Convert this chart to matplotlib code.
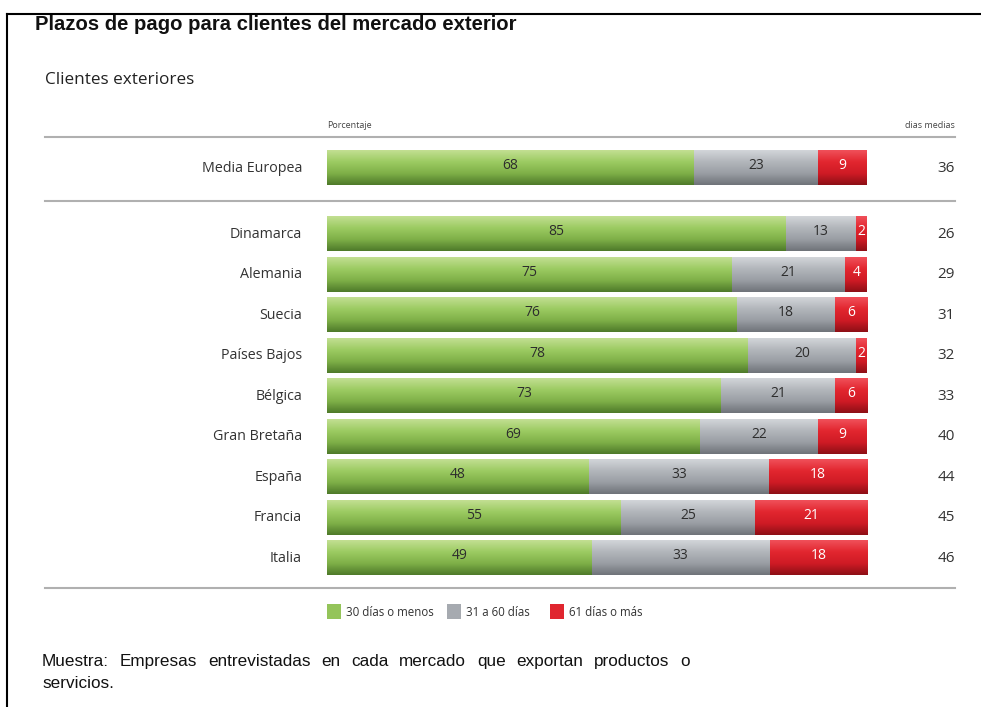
import numpy as np
import matplotlib
matplotlib.use("Agg")
import matplotlib.pyplot as plt
from matplotlib.colors import LinearSegmentedColormap
from matplotlib.lines import Line2D
from matplotlib.patches import Rectangle

# ---------------- data ----------------
categories = ["Media Europea", "Dinamarca", "Alemania", "Suecia", "Países Bajos",
              "Bélgica", "Gran Bretaña", "España", "Francia", "Italia"]
short_30 = [68, 85, 75, 76, 78, 73, 69, 48, 55, 49]
mid_31_60 = [23, 13, 21, 18, 20, 21, 22, 33, 25, 33]
long_61 = [9, 2, 4, 6, 2, 6, 9, 18, 21, 18]
avg_days = [36, 26, 29, 31, 32, 33, 40, 44, 45, 46]
series_names = ["30 días o menos", "31 a 60 días", "61 días o más"]

title = "Plazos de pago para clientes del mercado exterior"
subtitle = "Clientes exteriores"
footer = "Muestra: Empresas entrevistadas en cada mercado que exportan productos o"
footer2 = "servicios."

# ---------------- style ----------------
W, H = 981, 707
fig = plt.figure(figsize=(W / 100, H / 100), dpi=100)
fig.patch.set_facecolor("white")

def fx(px):
    return px / W

def fy(py):
    return 1 - py / H

base_colors = ["#94c45a", "#a6aab0", "#e0262f"]
grads = [
    LinearSegmentedColormap.from_list("g", ["#c2df92", "#9ccb62", "#7fb048", "#4e7a2a"]),
    LinearSegmentedColormap.from_list("s", ["#d2d5d9", "#b2b6bb", "#9a9ea4", "#6f7379"]),
    LinearSegmentedColormap.from_list("r", ["#f0505a", "#e2262f", "#cf1b25", "#8e0f16"]),
]
label_colors = ["#2d2d2d", "#2d2d2d", "#ffffff"]

# axes: x 0..100 maps to px 327..867 ; y rows in units of 40.5 px
ax_top, ax_bot = 100, 600
ax = fig.add_axes([fx(327), fy(ax_bot), fx(867) - fx(327), (ax_bot - ax_top) / H])
ax.set_axis_off()
unit = 40.5
y0_px = 168
ypos = [0.0] + [1.63 + i for i in range(len(categories) - 1)]
bar_h = 0.84

data = np.array([short_30, mid_31_60, long_61], dtype=float)
totals = data.sum(axis=0)
norm = data / totals * 100.0

left = np.zeros(len(categories))
for s in range(3):
    bars = ax.barh(ypos, norm[s], left=left, height=bar_h, color=base_colors[s],
                   edgecolor="none", zorder=2)
    g = np.linspace(0, 1, 64).reshape(-1, 1)
    for i, r in enumerate(bars):
        x, y, w, h = r.get_x(), r.get_y(), r.get_width(), r.get_height()
        ax.imshow(g, cmap=grads[s], extent=(x, x + w, y + h, y), origin="upper",
                  aspect="auto", zorder=3, interpolation="bilinear")
        ax.text(x + w / 2, y + h / 2 - 0.06, f"{int(data[s, i])}", ha="center", va="center",
                fontsize=10, color=label_colors[s], family="Open Sans", zorder=4)
    left = left + norm[s]

ax.set_xlim(0, 100)
ax.set_ylim((ax_bot - y0_px) / unit, (ax_top - y0_px) / unit)

# category labels & average days
for i, cat in enumerate(categories):
    py = y0_px + ypos[i] * unit
    fig.text(fx(302), fy(py), cat, ha="right", va="center", fontsize=10.3,
             color="#333333", family="Open Sans")
    fig.text(fx(955), fy(py), f"{avg_days[i]}", ha="right", va="center", fontsize=11,
             color="#333333", family="Open Sans")

# header labels
fig.text(fx(327), fy(126), "Porcentaje", ha="left", va="center", fontsize=6.5,
         color="#444444", family="Open Sans")
fig.text(fx(955), fy(126), "dias medias", ha="right", va="center", fontsize=6.5,
         color="#444444", family="Open Sans")

# separator lines
for py in (137, 201, 588):
    fig.add_artist(Line2D([fx(45), fx(955)], [fy(py), fy(py)], color="#b0b0b0", lw=1.5))

# black frame (left and top)
fig.add_artist(Line2D([fx(7), fx(7)], [fy(14), 0], color="black", lw=1.5))
fig.add_artist(Line2D([fx(7), 1], [fy(14), fy(14)], color="black", lw=1.5))

# titles
fig.text(fx(35), fy(24), title, ha="left", va="center", fontsize=14.6, fontweight="bold",
         color="#111111", family="Liberation Sans")
fig.text(fx(45), fy(80), subtitle, ha="left", va="center", fontsize=12.3,
         color="#222222", family="Open Sans")

# legend
leg_x = [327, 447, 550]
for s in range(3):
    fig.add_artist(Rectangle((fx(leg_x[s]), fy(619)), 14 / W, 15 / H,
                             transform=fig.transFigure, facecolor=base_colors[s],
                             edgecolor="none"))
    fig.text(fx(leg_x[s] + 19), fy(613), series_names[s], ha="left", va="center",
             fontsize=8.3, color="#333333", family="Open Sans")

# footer (justified first line)
words = footer.split(" ")
fam = "Liberation Sans"
txts = [fig.text(0, fy(666), w, ha="left", va="baseline", fontsize=12.3, color="#111111",
                 family=fam) for w in words]
fig.canvas.draw()
rend = fig.canvas.get_renderer()
widths = [t.get_window_extent(rend).width for t in txts]
x_start, x_end = 42, 690
gap = (x_end - x_start - sum(widths)) / (len(words) - 1)
xc = x_start
for t, wdt in zip(txts, widths):
    t.set_x(fx(xc))
    xc += wdt + gap
fig.text(fx(42), fy(688), footer2, ha="left", va="baseline", fontsize=12.3, color="#111111",
         family=fam)

fig.savefig("out.png", dpi=100, facecolor="white")
